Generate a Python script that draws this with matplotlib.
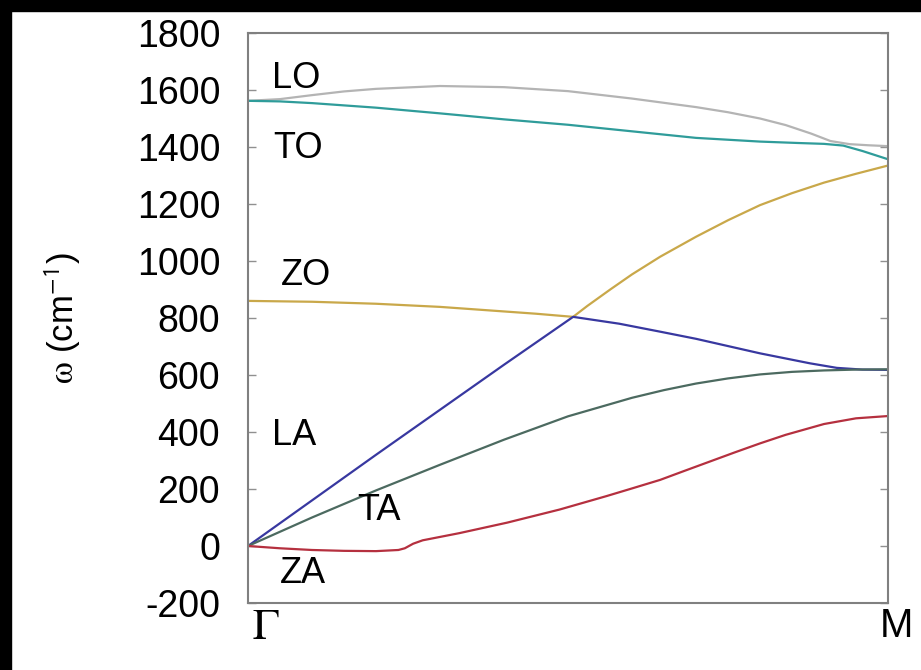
import matplotlib
matplotlib.use('Agg')
import matplotlib.pyplot as plt
from matplotlib.patches import Rectangle

plt.rcParams['font.family'] = ['Liberation Sans', 'DejaVu Sans']
plt.rcParams['mathtext.fontset'] = 'stix'

# phonon branches along Gamma -> M (path fraction, frequency in cm^-1)
q_lo = [0, 0.05, 0.1, 0.15, 0.2, 0.3, 0.4, 0.5, 0.6, 0.65, 0.7, 0.75, 0.8, 0.84,
        0.88, 0.91, 0.94, 0.97, 1.0]
w_lo = [1562, 1568, 1582, 1595, 1604, 1614, 1610, 1596, 1570, 1555, 1540, 1522, 1500, 1477,
        1447, 1421, 1410, 1406, 1403]

q_to = [0, 0.05, 0.1, 0.15, 0.2, 0.3, 0.4, 0.5, 0.6, 0.7, 0.8, 0.86, 0.9, 0.93, 0.96, 1.0]
w_to = [1562, 1560, 1554, 1546, 1538, 1518, 1497, 1478, 1455, 1432, 1419, 1414, 1411, 1405, 1386, 1357]

q_zo = [0, 0.1, 0.2, 0.3, 0.4, 0.45, 0.508, 0.53, 0.566, 0.6, 0.644, 0.7, 0.75, 0.8,
        0.85, 0.9, 0.95, 1.0]
w_zo = [860, 857, 850, 839, 823, 815, 804, 842, 900, 953, 1015, 1085, 1143, 1196,
        1238, 1275, 1306, 1335]

q_la = [0, 0.1, 0.2, 0.3, 0.4, 0.508, 0.58, 0.644, 0.7, 0.8, 0.878, 0.92, 0.96, 1.0]
w_la = [0, 160, 320, 478, 636, 804, 780, 752, 727, 676, 641, 625, 619, 618]

q_ta = [0, 0.1, 0.2, 0.3, 0.4, 0.5, 0.6, 0.65, 0.7, 0.75, 0.8, 0.85, 0.9, 0.95, 1.0]
w_ta = [0, 100, 195, 285, 373, 455, 520, 547, 570, 588, 602, 611, 616, 619, 620]

q_za = [0, 0.05, 0.1, 0.15, 0.2, 0.235, 0.245, 0.258, 0.273, 0.33, 0.405, 0.487,
        0.56, 0.6, 0.644, 0.68, 0.72, 0.76, 0.8, 0.84, 0.9, 0.95, 1.0]
w_za = [0, -8, -14, -17, -18, -14, -8, 8, 20, 45, 82, 128,
        175, 202, 232, 262, 295, 328, 360, 390, 428, 448, 456]

branches = [
    (q_lo, w_lo, '#b4b4b4'),
    (q_to, w_to, '#2f9c9a'),
    (q_zo, w_zo, '#c9a84a'),
    (q_la, w_la, '#3838a0'),
    (q_ta, w_ta, '#4c6a60'),
    (q_za, w_za, '#b5303f'),
]

labels = ['LO', 'TO', 'ZO', 'LA', 'TA', 'ZA']
label_q = [0.0375, 0.039, 0.052, 0.0375, 0.17, 0.05]
label_w = [1607, 1361, 916, 354, 91, -131]

yticks = list(range(-200, 1801, 200))


def main():
    fig = plt.figure(figsize=(9.21, 6.70), dpi=100)
    fig.patch.set_facecolor('white')
    # black frame strips at the top and left of the original screenshot
    fig.patches.append(Rectangle((0, 1 - 11 / 670), 1, 11 / 670, transform=fig.transFigure,
                                 color='black', zorder=10))
    fig.patches.append(Rectangle((0, 0), 11 / 921, 1, transform=fig.transFigure,
                                 color='black', zorder=10))

    ax = fig.add_axes([248 / 921, 1 - 603 / 670, 640 / 921, 570 / 670])

    for q, w, c in branches:
        ax.plot(q, w, color=c, lw=1.6, solid_capstyle='round', solid_joinstyle='round')

    for name, x, y in zip(labels, label_q, label_w):
        ax.text(x, y, name, fontsize=26, ha='left', va='baseline')

    ax.set_xlim(0, 1)
    ax.set_ylim(-200, 1800)
    ax.set_yticks(yticks)
    ax.set_yticklabels([str(t) for t in yticks])
    ax.tick_params(axis='y', direction='in', length=6, width=1, color='#909090',
                   labelsize=27, pad=20, right=True)
    ax.set_xticks([])

    for s in ax.spines.values():
        s.set_color('#808080')
        s.set_linewidth(1.5)

    ax.annotate(r'$\Gamma$', xy=(0, 0), xycoords='axes fraction', xytext=(4, -4),
                textcoords='offset pixels', fontsize=32, ha='left', va='top')
    ax.annotate('M', xy=(1, 0), xycoords='axes fraction', xytext=(8, -4),
                textcoords='offset pixels', fontsize=29, ha='center', va='top')

    ax.set_ylabel(r'$\mathrm{\omega}$ (cm$^{\mathsf{-1}}$)', fontsize=25)
    ax.yaxis.set_label_coords(-(248 - 83) / 640, 0.5)

    plt.savefig('out.png', dpi=100)


if __name__ == '__main__':
    main()
